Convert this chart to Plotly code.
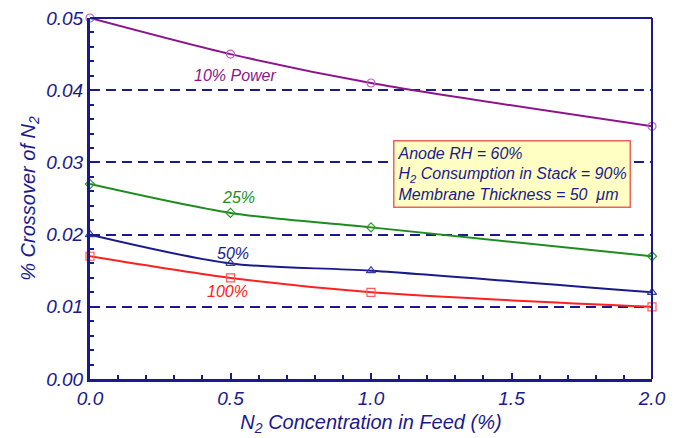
import plotly.graph_objects as go

x_vals = [0.0, 0.5, 1.0, 2.0]
p10 = [0.050, 0.045, 0.041, 0.035]
p25 = [0.027, 0.023, 0.021, 0.017]
p50 = [0.020, 0.016, 0.015, 0.012]
p100 = [0.017, 0.014, 0.012, 0.010]

series = [
    ("10% Power", p10, "#8b168b", "circle-open", "#c060c0", 8),
    ("25%", p25, "#1e8c1e", "diamond-open", "#2a9a2a", 7),
    ("50%", p50, "#1a1a8a", "triangle-up-open", "#3a3aa0", 8),
    ("100%", p100, "#ff2020", "square-open", "#ff5a5a", 8),
]

NAVY = "#1a1a8c"
fig = go.Figure()
for name, ys, col, sym, mcol, msize in series:
    fig.add_trace(go.Scatter(
        x=x_vals, y=ys, mode="lines+markers", name=name,
        line=dict(color=col, width=2, shape="spline", smoothing=0.8),
        marker=dict(symbol=sym, size=msize, color=mcol, line=dict(width=1.2, color=mcol)),
        cliponaxis=False, showlegend=False))

labels = [
    ("10% Power", 0.515, 0.0420, "#8b168b"),
    ("25%", 0.53, 0.0252, "#1e8c1e"),
    ("50%", 0.51, 0.0174, "#1a1a8a"),
    ("100%", 0.49, 0.0121, "#ff2020"),
]
for txt, xx, yy, col in labels:
    fig.add_annotation(x=xx, y=yy, text=txt, showarrow=False,
                       font=dict(family="Liberation Sans, Arial", size=16, color=col, style="italic"))

fig.add_annotation(
    x=1.5, y=0.0284, xref="x", yref="y",
    text="Anode RH = 60%<br>H<sub>2</sub> Consumption in Stack = 90%<br>Membrane Thickness = 50  \u03bcm",
    showarrow=False, align="left", bgcolor="#ffffc4", bordercolor="#f06060", borderwidth=1.5,
    borderpad=3,
    font=dict(family="Liberation Sans, Arial", size=16, color=NAVY, style="italic"))

fig.add_shape(type="line", xref="paper", yref="paper", x0=0, x1=1, y0=1, y1=1,
              line=dict(color=NAVY, width=2))
fig.add_shape(type="line", xref="paper", yref="paper", x0=1, x1=1, y0=0, y1=1,
              line=dict(color=NAVY, width=2))

tickfont = dict(family="Liberation Sans, Arial", size=19, color=NAVY, style="italic")
titlefont = dict(family="Liberation Sans, Arial", size=20, color=NAVY, style="italic")

fig.update_xaxes(range=[0, 2.0], dtick=0.5, tickformat=".1f", showgrid=False, zeroline=False,
                 showline=True, linecolor=NAVY, linewidth=3, ticks="inside", ticklen=6,
                 tickcolor=NAVY, tickwidth=1.5, tickfont=tickfont, automargin=False,
                 minor=dict(ticks="inside", dtick=0.1, ticklen=4, tickcolor=NAVY),
                 title=dict(text="N<sub>2</sub> Concentration in Feed (%)", font=titlefont, standoff=8))
fig.update_yaxes(range=[0, 0.05], dtick=0.01, tickformat=".2f", showgrid=True, gridcolor=NAVY,
                 griddash="10px,6px", gridwidth=1.5, zeroline=False, automargin=False,
                 showline=True, linecolor=NAVY, linewidth=3, ticks="inside", ticklen=6,
                 tickcolor=NAVY, tickwidth=1.5, tickfont=tickfont,
                 minor=dict(ticks="inside", dtick=0.002, ticklen=4, tickcolor=NAVY, showgrid=False),
                 title=dict(text="% Crossover of N<sub>2</sub>", font=titlefont, standoff=6))

fig.update_layout(width=681, height=438, margin=dict(l=90, r=29, t=18, b=59),
                  plot_bgcolor="white", paper_bgcolor="white")
fig.write_html("out.html")
